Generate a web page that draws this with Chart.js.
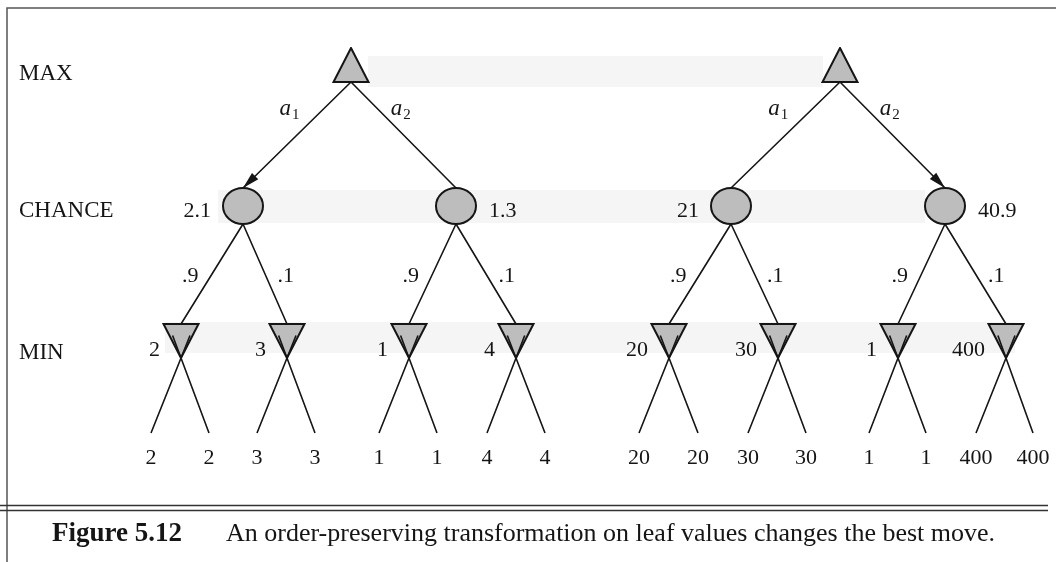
<!DOCTYPE html>
<html><head><meta charset="utf-8">
<script src="https://cdn.jsdelivr.net/npm/chart.js@4.4.1/dist/chart.umd.min.js"></script>
<style>html,body{margin:0;padding:0;background:#fff;}canvas{display:block;}</style>
</head><body>
<canvas id="c" width="1056" height="562"></canvas>
<script>
// ---------------- data ----------------
const levelNames = ['MAX', 'CHANCE', 'MIN'];
const actionNames = ['1', '2'];           // subscripts of a₁, a₂
const bestAction = [0, 1];                // chosen move in left / right tree
const probabilities = ['.9', '.1'];
const chanceValues = ['2.1', '1.3', '21', '40.9'];
const minValues = ['2', '3', '1', '4', '20', '30', '1', '400'];
const leafValues = ['2','2','3','3','1','1','4','4','20','20','30','30','1','1','400','400'];
const captionNumber = 'Figure 5.12';
const captionText = 'An order-preserving transformation on leaf values changes the best move.';

// ---------------- layout (scale units = px) ----------------
const maxX = [351, 840];
const chanceX = [243, 456, 731, 945];
const minX = [181, 287, 409, 516, 669, 778, 898, 1006];
const leafX = [151,209,257,315,379,437,487,545,639,698,748,806,869,926,976,1033];
const levelY = { max: 65, chance: 206, min: 341, leaf: 433 };
const tri = { w: 35, h: 34 };
const ell = { rx: 20, ry: 18 };

const FILL = '#bdbdbd', INK = '#151515';
const SERIF = '"Liberation Serif", "DejaVu Serif", serif';

function makeShape(w, h, draw) {
  const c = document.createElement('canvas');
  c.width = w; c.height = h;
  const g = c.getContext('2d');
  g.fillStyle = FILL; g.strokeStyle = INK; g.lineWidth = 2; g.lineJoin = 'miter';
  g.beginPath(); draw(g, w, h); g.closePath(); g.fill(); g.stroke();
  return c;
}
const maxShape = makeShape(tri.w + 3, tri.h + 2, (g, w, h) => {
  g.moveTo(w / 2, 1); g.lineTo(w - 1.5, h - 1); g.lineTo(1.5, h - 1);
});
const minShape = makeShape(tri.w + 3, tri.h + 2, (g, w, h) => {
  g.moveTo(1.5, 1); g.lineTo(w - 1.5, 1); g.lineTo(w / 2, h - 1);
});
const chanceShape = makeShape(ell.rx * 2 + 4, ell.ry * 2 + 4, (g, w, h) => {
  g.ellipse(w / 2, h / 2, ell.rx, ell.ry, 0, 0, Math.PI * 2);
});

// derived geometry
const maxBottom = levelY.max + tri.h / 2;
const chanceTop = levelY.chance - ell.ry;
const chanceBottom = levelY.chance + ell.ry;
const minTop = levelY.min - tri.h / 2;
const minApex = levelY.min + tri.h / 2;

// edges as point lists broken by gaps
const upperEdges = [];
chanceX.forEach((cx, i) => {
  const px = maxX[Math.floor(i / 2)];
  upperEdges.push({x: px, y: maxBottom}, {x: cx, y: chanceTop}, {x: cx, y: null});
});
minX.forEach((mx, i) => {
  const cx = chanceX[Math.floor(i / 2)];
  upperEdges.push({x: cx, y: chanceBottom}, {x: mx, y: minTop}, {x: mx, y: null});
});
const leafEdges = [];
leafX.forEach((lx, i) => {
  const mx = minX[Math.floor(i / 2)];
  const k = 0.3;
  const ex = mx + (mx - lx) * k, ey = minApex + (minApex - levelY.leaf) * k;
  leafEdges.push({x: lx, y: levelY.leaf}, {x: ex, y: ey}, {x: ex, y: null});
});

const nodeDataset = (xs, y, shape) => ({
  data: xs.map(x => ({x, y})), pointStyle: shape, pointRadius: 20,
  showLine: false, order: 1
});

// ---------------- plugins ----------------
const bandsPlugin = {
  id: 'bands',
  beforeDatasetsDraw(chart) {
    const {ctx, scales: {x, y}} = chart;
    const bands = [
      [368, 823, levelY.max - 9, levelY.max + 22],
      [218, 925, levelY.chance - 16, levelY.chance + 17],
      [165, 1015, levelY.min - 19, levelY.min + 12]
    ];
    ctx.save();
    ctx.fillStyle = '#f5f5f5';
    bands.forEach(([x0, x1, y0, y1]) => {
      const px0 = x.getPixelForValue(x0), px1 = x.getPixelForValue(x1);
      const py0 = y.getPixelForValue(y0), py1 = y.getPixelForValue(y1);
      ctx.fillRect(px0, py0, px1 - px0, py1 - py0);
    });
    // frame
    ctx.strokeStyle = '#555'; ctx.lineWidth = 1.5;
    ctx.beginPath();
    ctx.moveTo(x.getPixelForValue(7), y.getPixelForValue(562));
    ctx.lineTo(x.getPixelForValue(7), y.getPixelForValue(8));
    ctx.lineTo(x.getPixelForValue(1056), y.getPixelForValue(8));
    ctx.stroke();
    ctx.strokeStyle = '#333'; ctx.lineWidth = 1.3;
    [505.5, 510.5].forEach(v => {
      ctx.beginPath();
      ctx.moveTo(x.getPixelForValue(0), y.getPixelForValue(v));
      ctx.lineTo(x.getPixelForValue(1048), y.getPixelForValue(v));
      ctx.stroke();
    });
    ctx.restore();
  }
};

const textPlugin = {
  id: 'texts',
  afterDatasetsDraw(chart) {
    const {ctx, scales: {x, y}} = chart;
    const X = v => x.getPixelForValue(v), Y = v => y.getPixelForValue(v);
    ctx.save();
    ctx.fillStyle = INK;
    ctx.textBaseline = 'alphabetic';

    // arrowheads on best moves
    bestAction.forEach((b, t) => {
      const cx = chanceX[2 * t + b];
      const x0 = X(maxX[t]), y0 = Y(maxBottom), x1 = X(cx), y1 = Y(chanceTop);
      const ang = Math.atan2(y1 - y0, x1 - x0), L = 17, W = 4.5;
      ctx.beginPath();
      ctx.moveTo(x1, y1);
      ctx.lineTo(x1 - L * Math.cos(ang) + W * Math.sin(ang), y1 - L * Math.sin(ang) - W * Math.cos(ang));
      ctx.lineTo(x1 - L * Math.cos(ang) - W * Math.sin(ang), y1 - L * Math.sin(ang) + W * Math.cos(ang));
      ctx.closePath(); ctx.fill();
    });

    // row labels
    ctx.font = '23px ' + SERIF; ctx.textAlign = 'left';
    const rowBase = [80, 217, 359];
    levelNames.forEach((n, i) => ctx.fillText(n, X(19), Y(rowBase[i])));

    // action labels a1 a2
    maxX.forEach((mx, t) => {
      actionNames.forEach((sub, j) => {
        const cx = chanceX[2 * t + j];
        const yy = 108;
        const f = (yy - maxBottom) / (chanceTop - maxBottom);
        const ex = mx + (cx - mx) * f;
        ctx.font = 'italic 23px ' + SERIF;
        const wa = ctx.measureText('a').width;
        ctx.font = '15px ' + SERIF;
        const ws = ctx.measureText(sub).width;
        const left = j === 0 ? ex - 26 - wa - ws : ex + 14;
        ctx.font = 'italic 23px ' + SERIF; ctx.textAlign = 'left';
        ctx.fillText('a', X(left), Y(115));
        ctx.font = '15px ' + SERIF;
        ctx.fillText(sub, X(left + wa + 1), Y(119));
      });
    });

    // chance values
    ctx.font = '22px ' + SERIF;
    chanceValues.forEach((v, i) => {
      if (i % 2 === 0) { ctx.textAlign = 'right'; ctx.fillText(v, X(chanceX[i] - ell.rx - 12), Y(217)); }
      else { ctx.textAlign = 'left'; ctx.fillText(v, X(chanceX[i] + ell.rx + 13), Y(217)); }
    });

    // probabilities
    minX.forEach((mx, i) => {
      const cx = chanceX[Math.floor(i / 2)];
      const yy = 275;
      const f = (yy - chanceBottom) / (minTop - chanceBottom);
      const ex = cx + (mx - cx) * f;
      const p = probabilities[i % 2];
      if (i % 2 === 0) { ctx.textAlign = 'right'; ctx.fillText(p, X(ex - 13), Y(282)); }
      else { ctx.textAlign = 'left'; ctx.fillText(p, X(ex + 12), Y(282)); }
    });

    // min values
    ctx.textAlign = 'right';
    minValues.forEach((v, i) => ctx.fillText(v, X(minX[i] - 21), Y(356)));

    // leaf values
    ctx.textAlign = 'center';
    leafValues.forEach((v, i) => ctx.fillText(v, X(leafX[i]), Y(464)));

    // caption
    ctx.textAlign = 'left';
    ctx.font = 'bold 27px ' + SERIF;
    ctx.fillText(captionNumber, X(52), Y(541));
    ctx.font = '26px ' + SERIF;
    ctx.fillText(captionText, X(226), Y(541));
    ctx.restore();
  }
};

new Chart(document.getElementById('c'), {
  type: 'scatter',
  data: {
    datasets: [
      { data: leafEdges, showLine: true, borderColor: INK, borderWidth: 1.6, pointRadius: 0, spanGaps: false, order: 0 },
      nodeDataset(maxX, levelY.max, maxShape),
      nodeDataset(chanceX, levelY.chance, chanceShape),
      nodeDataset(minX, levelY.min, minShape),
      { data: upperEdges, showLine: true, borderColor: INK, borderWidth: 1.6, pointRadius: 0, spanGaps: false, order: 2 }
    ]
  },
  options: {
    responsive: false, animation: false, events: [],
    layout: { padding: 0, autoPadding: false },
    plugins: { legend: { display: false }, tooltip: { enabled: false }, title: { display: false } },
    scales: {
      x: { type: 'linear', min: 0, max: 1056, display: false },
      y: { type: 'linear', min: 0, max: 562, reverse: true, display: false }
    }
  },
  plugins: [bandsPlugin, textPlugin]
});
</script>
</body></html>
